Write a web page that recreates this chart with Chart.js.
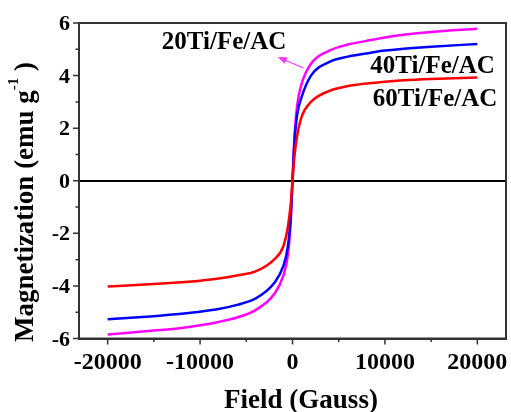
<!DOCTYPE html>
<html lang="en">
<head>
    <meta charset="UTF-8">
    <title>Magnetization vs Field</title>
    <script src="https://cdn.jsdelivr.net/npm/chart.js"></script>
    <style>
        html, body { margin: 0; padding: 0; background: #fff; }
        .chart-container { width: 511px; height: 412px; }
    </style>
</head>
<body>
    <div class="chart-container">
        <canvas id="vsmChart" width="511" height="412"></canvas>
    </div>

    <script>
        // Field values (Gauss), shared by all three samples
        const fieldG = [-20000, -15000, -12000, -10000, -8000, -6000, -4000, -2000, -1000, -500, -200, 0,
                        200, 500, 1000, 2000, 4000, 6000, 8000, 10000, 12000, 15000, 20000];

        // Magnetization (emu/g)
        const mag20 = [-5.85, -5.70, -5.60, -5.50, -5.37, -5.20, -4.92, -4.32, -3.62, -2.82, -1.60, 0,
                       1.60, 2.85, 3.70, 4.45, 4.95, 5.18, 5.32, 5.45, 5.55, 5.66, 5.78];
        const mag40 = [-5.27, -5.15, -5.06, -4.98, -4.88, -4.72, -4.48, -3.90, -3.25, -2.50, -1.40, 0,
                       1.40, 2.50, 3.20, 4.00, 4.52, 4.72, 4.84, 4.95, 5.02, 5.10, 5.20];
        const mag60 = [-4.02, -3.93, -3.86, -3.80, -3.72, -3.60, -3.45, -3.00, -2.50, -1.75, -0.90, 0,
                       0.90, 1.70, 2.45, 3.00, 3.42, 3.60, 3.70, 3.77, 3.82, 3.87, 3.93];

        // Axis ticks
        const xTicks = [-20000, -10000, 0, 10000, 20000];
        const xMinor = [-15000, -5000, 5000, 15000];
        const yTicks = [-6, -4, -2, 0, 2, 4, 6];
        const yMinor = [-5, -3, -1, 1, 3, 5];

        // Sample labels (placed in data coordinates)
        const labelText = ['20Ti/Fe/AC', '40Ti/Fe/AC', '60Ti/Fe/AC'];
        const labelX = [-7400, 15160, 15430];
        const labelY = [5.02, 4.11, 2.85];
        const arrowFrom = [1170, 4.29];
        const arrowTo = [-1600, 4.71];

        const serif = '"Liberation Serif", "Times New Roman", serif';

        function toPoints(xs, ys) {
            return xs.map((x, i) => ({ x: x, y: ys[i] }));
        }

        // Frame, tick marks, labels, titles and annotations
        const decorations = {
            id: 'decorations',
            afterDraw(chart) {
                const c = chart.ctx;
                const a = chart.chartArea;
                const sx = chart.scales.x;
                const sy = chart.scales.y;
                c.save();

                // box
                c.strokeStyle = '#333';
                c.lineWidth = 2;
                c.strokeRect(a.left, a.top, a.right - a.left, a.bottom - a.top);

                // tick marks (outward)
                c.lineWidth = 1.5;
                c.beginPath();
                xTicks.forEach(v => { const p = sx.getPixelForValue(v); c.moveTo(p, a.bottom); c.lineTo(p, a.bottom + 6); });
                xMinor.forEach(v => { const p = sx.getPixelForValue(v); c.moveTo(p, a.bottom); c.lineTo(p, a.bottom + 3.5); });
                yTicks.forEach(v => { const p = sy.getPixelForValue(v); c.moveTo(a.left, p); c.lineTo(a.left - 6, p); });
                yMinor.forEach(v => { const p = sy.getPixelForValue(v); c.moveTo(a.left, p); c.lineTo(a.left - 3.5, p); });
                c.stroke();

                c.fillStyle = '#000';
                c.textBaseline = 'alphabetic';

                // tick labels
                c.font = 'bold 24px ' + serif;
                c.textAlign = 'center';
                xTicks.forEach(v => c.fillText(String(v), sx.getPixelForValue(v), a.bottom + 30));
                c.font = 'bold 22px ' + serif;
                c.textAlign = 'right';
                yTicks.forEach(v => c.fillText(String(v), a.left - 9, sy.getPixelForValue(v) + 7));

                // x title
                c.font = 'bold 27px ' + serif;
                c.textAlign = 'center';
                c.fillText('Field (Gauss)', 301, 408);

                // y title with superscript
                c.save();
                c.translate(33, 202);
                c.rotate(-Math.PI / 2);
                c.textAlign = 'left';
                const mainFont = 'bold 27px ' + serif;
                const supFont = 'bold 15px ' + serif;
                const p1 = 'Magnetization (emu g';
                const p2 = '-1';
                const p3 = ' )';
                c.font = mainFont;
                const w1 = c.measureText(p1).width;
                const w3 = c.measureText(p3).width;
                c.font = supFont;
                const w2 = c.measureText(p2).width;
                let x0 = -(w1 + w2 + w3) / 2;
                c.font = mainFont;
                c.fillText(p1, x0, 0);
                c.font = supFont;
                c.fillText(p2, x0 + w1, -15);
                c.font = mainFont;
                c.fillText(p3, x0 + w1 + w2, 0);
                c.restore();

                // sample labels
                c.font = 'bold 25px ' + serif;
                c.textAlign = 'center';
                labelText.forEach((t, i) => c.fillText(t, sx.getPixelForValue(labelX[i]), sy.getPixelForValue(labelY[i])));

                // arrow to the 20Ti curve label
                const fx = sx.getPixelForValue(arrowFrom[0]), fy = sy.getPixelForValue(arrowFrom[1]);
                const tx = sx.getPixelForValue(arrowTo[0]), ty = sy.getPixelForValue(arrowTo[1]);
                const ang = Math.atan2(ty - fy, tx - fx);
                c.strokeStyle = '#ff33ff';
                c.fillStyle = '#ff33ff';
                c.lineWidth = 1.2;
                c.beginPath();
                c.moveTo(fx, fy);
                c.lineTo(tx - 6 * Math.cos(ang), ty - 6 * Math.sin(ang));
                c.stroke();
                c.beginPath();
                c.moveTo(tx, ty);
                c.lineTo(tx - 9 * Math.cos(ang) + 3.5 * Math.sin(ang), ty - 9 * Math.sin(ang) - 3.5 * Math.cos(ang));
                c.lineTo(tx - 9 * Math.cos(ang) - 3.5 * Math.sin(ang), ty - 9 * Math.sin(ang) + 3.5 * Math.cos(ang));
                c.closePath();
                c.fill();

                c.restore();
            }
        };

        const zeroLine = ctx => (ctx.tick && ctx.tick.value === 0) ? '#000' : 'rgba(0,0,0,0)';

        const chart = new Chart(document.getElementById('vsmChart').getContext('2d'), {
            type: 'line',
            data: {
                datasets: [
                    { label: '60Ti/Fe/AC', data: toPoints(fieldG, mag60), borderColor: '#ff0000' },
                    { label: '40Ti/Fe/AC', data: toPoints(fieldG, mag40), borderColor: '#0000ff' },
                    { label: '20Ti/Fe/AC', data: toPoints(fieldG, mag20), borderColor: '#ff00ff' }
                ]
            },
            options: {
                responsive: false,
                animation: false,
                layout: { padding: { left: 79, top: 23, right: 5, bottom: 73.5 } },
                plugins: {
                    legend: { display: false },
                    tooltip: { enabled: false }
                },
                elements: {
                    point: { radius: 0 },
                    line: { borderWidth: 2.5, cubicInterpolationMode: 'monotone', fill: false }
                },
                scales: {
                    x: {
                        type: 'linear',
                        min: -23100,
                        max: 23100,
                        ticks: { display: false, stepSize: 10000, includeBounds: false },
                        grid: { drawTicks: false, color: zeroLine, lineWidth: 2 },
                        border: { color: '#333', width: 2 }
                    },
                    y: {
                        type: 'linear',
                        min: -6,
                        max: 6,
                        ticks: { display: false, stepSize: 2, includeBounds: false },
                        grid: { drawTicks: false, color: zeroLine, lineWidth: 2 },
                        border: { color: '#333', width: 2 }
                    }
                }
            },
            plugins: [decorations]
        });
    </script>
</body>
</html>
